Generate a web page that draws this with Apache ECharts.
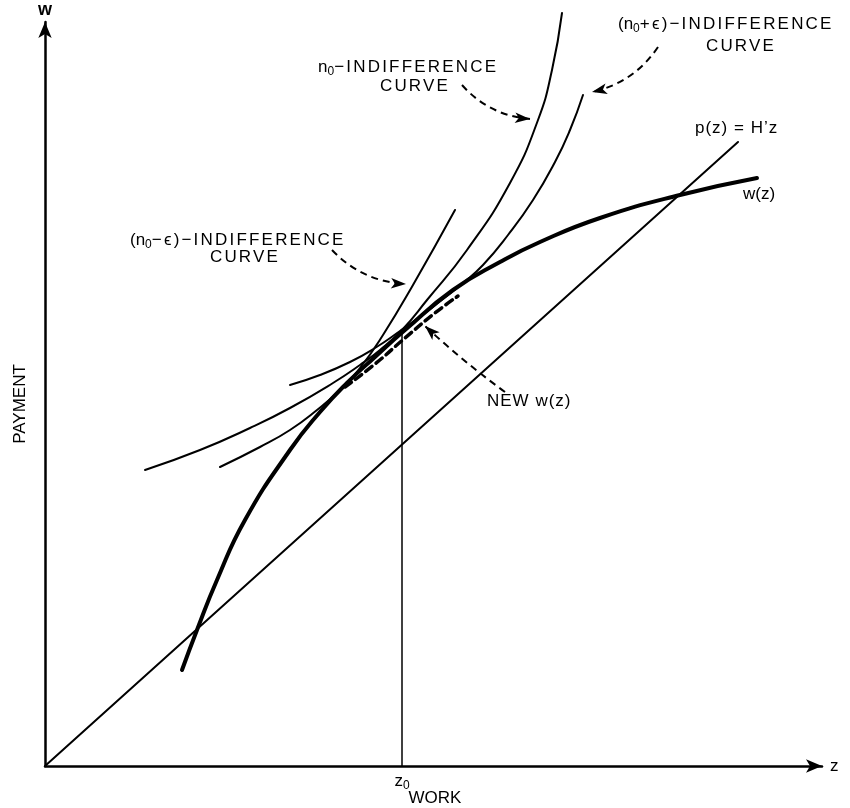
<!DOCTYPE html>
<html><head><meta charset="utf-8">
<script src="https://cdn.jsdelivr.net/npm/echarts@6/dist/echarts.min.js"></script>
<style>html,body{margin:0;padding:0;background:#fff}#c{width:850px;height:808px}</style>
</head><body><div id="c"></div>
<script>
// ---- data (chart units) ----
const wCurve = [[137,96],[152,136],[172,186],[200,246],[245,316],[275,354],[302,383],[330,409],[360,436],[408,476],[455,504],[495,524],[555,548],[635,571],[712,588]];
const n0Curve = [[100,296],[155,316],[205,338],[245,358],[288,383],[315,401],[335,416],[357,436],[382,466],[422,516],[465,583],[493,646],[507,696],[517,753]];
const n0MinusCurve = [[175,299],[215,319],[245,336],[272,356],[295,376],[315,398],[338,431],[368,481],[410,556]];
const n0PlusCurve = [[245,381],[275,391],[305,404],[330,418],[355,435],[380,453],[398,467],[418,483],[438,501],[463,531],[488,566],[510,604],[525,636],[538,671]];
const newWCurve = [[300,379],[330,402],[360,428],[390,453],[413,470]];
const pLine = [[0,0],[693,624]];
const z0 = 357;
const z0Top = 433;
const arrowN0 = [[417,681],[485,647]];
const arrowN0Plus = [[613,719],[547,674]];
const arrowN0Minus = [[287,516],[361,482]];
const arrowNewW = [[460,374],[380,440]];

// wider tracking for the typeset captions
(function () {
  const P = CanvasRenderingContext2D.prototype;
  const rules = [[/INDIFFERENCE|CURVE/, '2.2px'], [/H’z|NEW/, '1px']];
  const spacing = t => { for (const [re, s] of rules) if (re.test(t)) return s; return null; };
  const fill = P.fillText, measure = P.measureText;
  P.fillText = function (t, x, y, m) {
    const s = spacing(t);
    if (s && 'letterSpacing' in this) {
      this.save(); this.letterSpacing = s;
      m === undefined ? fill.call(this, t, x, y) : fill.call(this, t, x, y, m);
      this.restore(); return;
    }
    return m === undefined ? fill.call(this, t, x, y) : fill.call(this, t, x, y, m);
  };
  P.measureText = function (t) {
    const s = spacing(t);
    if (s && 'letterSpacing' in this) {
      this.save(); this.letterSpacing = s;
      const r = measure.call(this, t); this.restore(); return r;
    }
    return measure.call(this, t);
  };
})();

const FONT = '"Liberation Sans", Arial, sans-serif';
const chart = echarts.init(document.getElementById('c'), null, {renderer: 'canvas'});

function curve(data, width, dash) {
  return {type: 'line', data, showSymbol: false, symbol: 'none', smooth: 0.5,
    clip: false, silent: true, animation: false,
    lineStyle: {color: '#000', width, type: dash || 'solid', cap: 'round'}};
}
function arrow(coords, bend) {
  return {type: 'lines', coordinateSystem: 'cartesian2d', silent: true, animation: false,
    symbol: ['none', 'arrow'], symbolSize: [1, [8, 15]],
    lineStyle: {color: '#000', width: 2, type: [7, 5], curveness: bend, opacity: 1},
    data: [{coords}]};
}
const sub = {fontSize: 12, fontFamily: FONT, fill: '#000', padding: [10, 0, 0, 0]};
function txt(text, x, y, align, extra) {
  return Object.assign({type: 'text', x, y, silent: true,
    style: {text, fill: '#000', fontSize: 17, fontFamily: FONT, align: align || 'left', verticalAlign: 'middle',
      rich: {s: sub}}}, extra || {});
}

chart.setOption({
  animation: false,
  grid: {left: 45, right: 28, top: 22, bottom: 42},
  xAxis: {type: 'value', min: 0, max: 777, name: 'z', nameLocation: 'end', nameGap: 8,
    nameTextStyle: {fontSize: 17, fontFamily: FONT, color: '#000', verticalAlign: 'middle'},
    axisLine: {show: true, symbol: ['none', 'arrow'], symbolSize: [10, 16], lineStyle: {color: '#000', width: 2.5}},
    axisTick: {show: false}, splitLine: {show: false},
    axisLabel: {show: true, customValues: [z0], formatter: () => '{a|z}{s|0}', margin: 4,
      rich: {a: {fontSize: 17, fontFamily: FONT, color: '#000'}, s: {fontSize: 12, fontFamily: FONT, color: '#000', padding: [10, 0, 0, 0]}}}},
  yAxis: {type: 'value', min: 0, max: 744, name: 'w', nameLocation: 'end', nameGap: 3,
    nameTextStyle: {fontSize: 18, fontFamily: FONT, color: '#000', fontWeight: 'bold'},
    axisLine: {show: true, symbol: ['none', 'arrow'], symbolSize: [10, 16], lineStyle: {color: '#000', width: 2.5}},
    axisTick: {show: false}, splitLine: {show: false}, axisLabel: {show: false}},
  series: [
    curve(pLine, 2),
    curve([[z0, 0], [z0, z0Top]], 1.5),
    curve(n0Curve, 2),
    curve(n0MinusCurve, 2),
    curve(n0PlusCurve, 2),
    curve(wCurve, 4),
    curve(newWCurve, 3.5, [8, 5]),
    arrow(arrowN0, -0.2),
    arrow(arrowN0Plus, 0.2),
    arrow(arrowN0Minus, -0.2),
    arrow(arrowNewW, 0.03)
  ],
  graphic: [
    txt('(n{s|0}+ϵ)−INDIFFERENCE', 618, 24),
    txt('CURVE', 741, 46, 'center'),
    txt('n{s|0}−INDIFFERENCE', 318, 67),
    txt('CURVE', 415, 86, 'center'),
    txt('(n{s|0}−ϵ)−INDIFFERENCE', 130, 240),
    txt('CURVE', 245, 257, 'center'),
    txt('p(z) = H’z', 695, 128),
    txt('w(z)', 743, 194),
    txt('NEW w(z)', 487, 401),
    txt('WORK', 435, 798, 'center'),
    txt('PAYMENT', 20, 404, 'center', {rotation: Math.PI / 2})
  ]
});
</script></body></html>
